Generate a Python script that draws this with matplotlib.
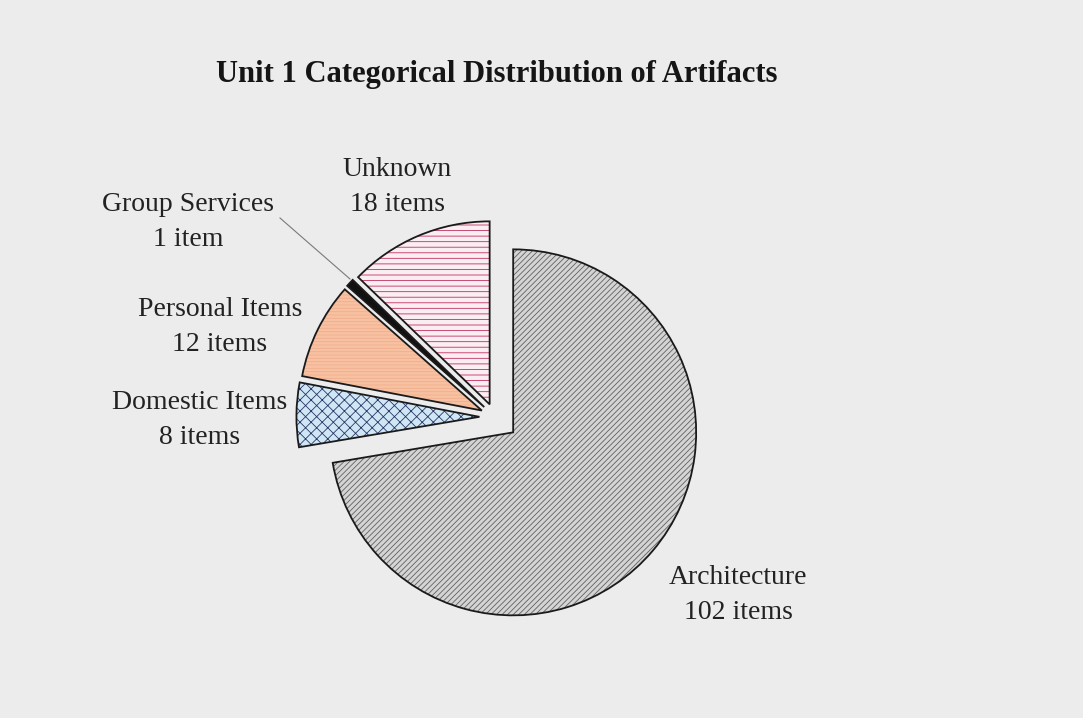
import numpy as np
from matplotlib import pyplot as plt

# values
categories = ["Architecture", "Domestic Items", "Personal Items", "Group Services", "Unknown"]
counts = [102, 8, 12, 1, 18]
unit_words = ["items", "items", "items", "item", "items"]

face_colors = ["#d4d4d4", "#cfe7f5", "#f7c1a2", "#111111", "#fbeef2"]
hatch_colors = ["#606060", "#2b3565", "#eeae8c", "#111111", "#c0305e"]
hatches = ["//////", "xxx", "-----", "", "---"]
explode = [0.13, 0.085, 0.08, 0.08, 0.075]

BG = "#ececec"
SERIF = ["Liberation Serif", "DejaVu Serif"]

plt.rcParams["hatch.linewidth"] = 0.6
fig = plt.figure(figsize=(10.83, 7.18), dpi=100, facecolor=BG)

# pie centre at about (495, 417) px, radius about 183 px
W, H = 1083, 718
cx, cy, r = 495, 417, 183
half = 300
ax = fig.add_axes([(cx - half) / W, (H - cy - half) / H, 2 * half / W, 2 * half / H])

# first pass: fills and hatches
wedges, _ = ax.pie(counts, explode=explode, startangle=90, counterclock=False,
                   colors=face_colors, radius=1.0, center=(0, 0), frame=True,
                   wedgeprops=dict(linewidth=0))
for w, h, hc in zip(wedges, hatches, hatch_colors):
    w.set_hatch(h)
    w.set_edgecolor(hc)
    w.set_linewidth(0)

# second pass: black outlines
outline, _ = ax.pie(counts, explode=explode, startangle=90, counterclock=False,
                    radius=1.0, center=(0, 0), frame=True,
                    wedgeprops=dict(fill=False, edgecolor="#1a1a1a", linewidth=1.3))
ax.set_xlim(-half / r, half / r)
ax.set_ylim(-half / r, half / r)
ax.set_aspect("equal")
ax.axis("off")

fig.text(497 / W, 1 - 82 / H, "Unit 1 Categorical Distribution of Artifacts",
         family=SERIF, fontsize=22, fontweight="bold", ha="center", va="baseline",
         color="#151515")

label_pos = {
    "Architecture": (738, 595),
    "Domestic Items": (200, 420),
    "Personal Items": (220, 327),
    "Group Services": (188, 222),
    "Unknown": (397, 187),
}
for name, n, word in zip(categories, counts, unit_words):
    px, py = label_pos[name]
    fig.text(px / W, 1 - py / H, f"{name}\n{n} {word}", family=SERIF,
             fontsize=20, ha="center", va="center", linespacing=1.55,
             color="#222222")

# leader line for the tiny Group Services slice
fig.add_artist(plt.Line2D([280 / W, 350 / W], [1 - 218 / H, 1 - 279 / H],
                          color="#7a7a7a", linewidth=0.8))

fig.savefig("out.png", dpi=100, facecolor=BG)
